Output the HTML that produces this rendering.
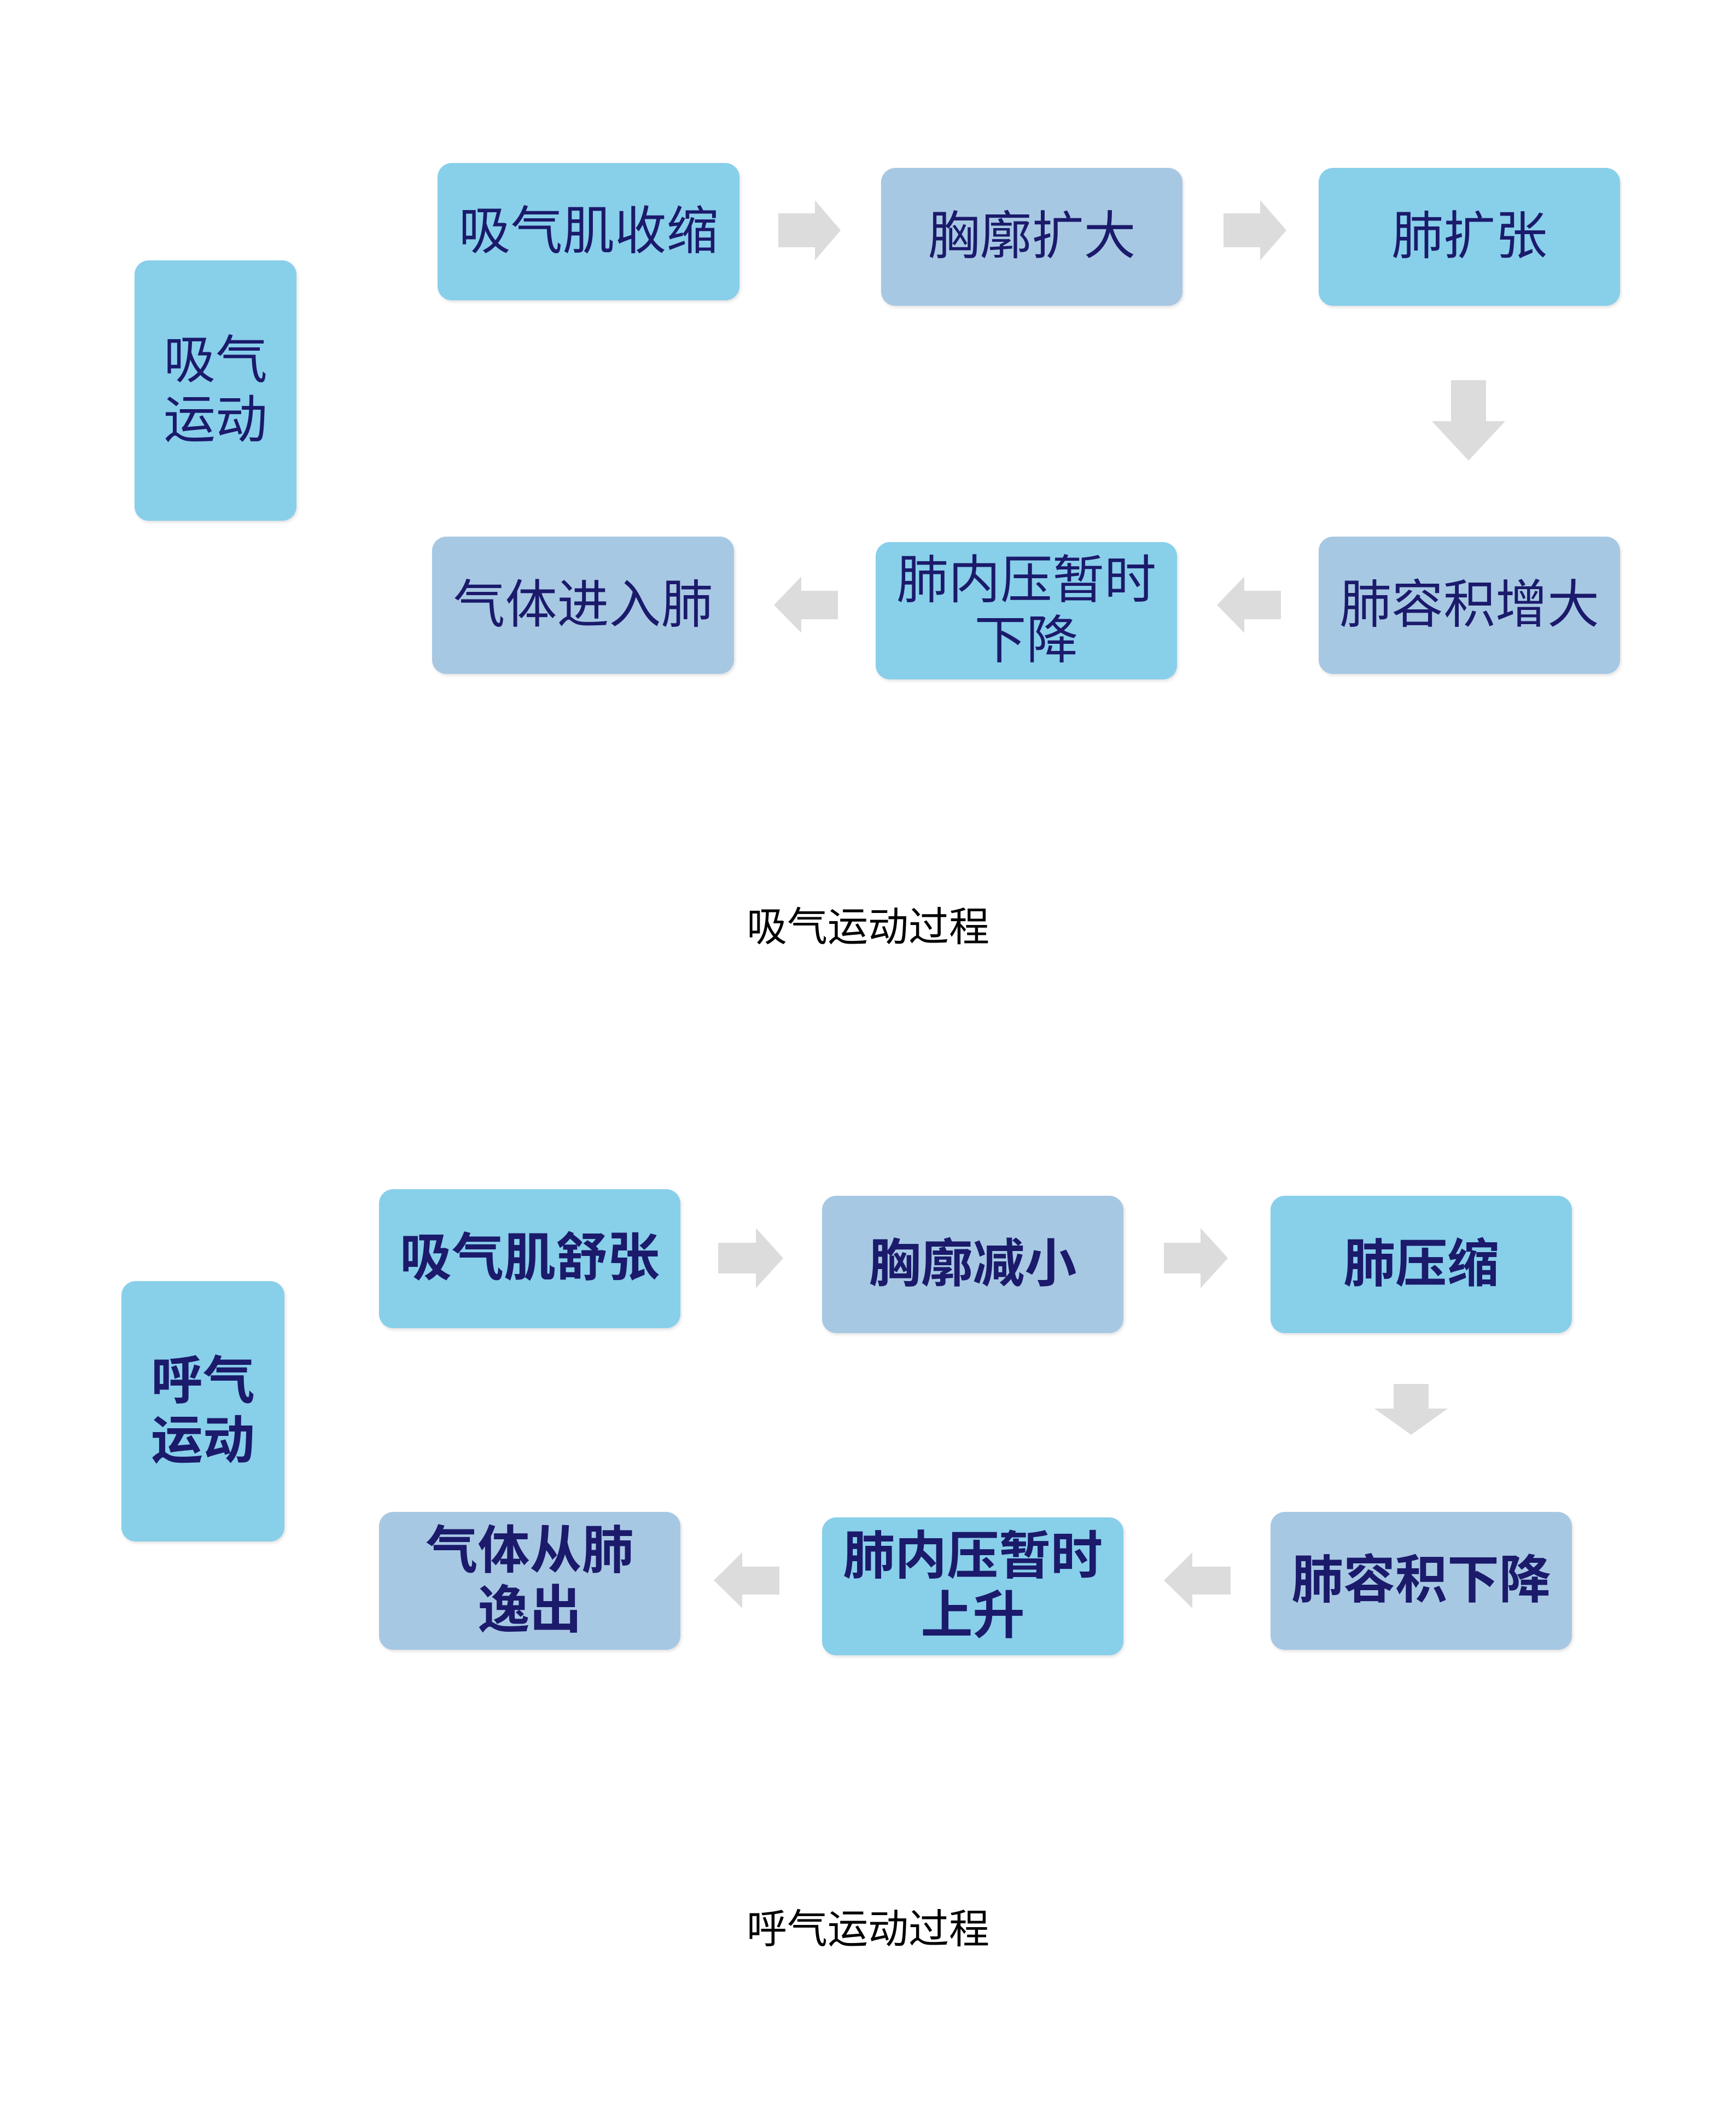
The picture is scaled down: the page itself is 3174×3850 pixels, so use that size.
<!DOCTYPE html>
<html><head><meta charset="utf-8"><style>
html,body{margin:0;padding:0;background:#fff;}
body{width:3174px;height:3850px;position:relative;overflow:hidden;font-family:"Liberation Sans","Noto Sans CJK SC",sans-serif;}
.b{position:absolute;border-radius:26px;display:flex;align-items:center;justify-content:center;text-align:center;color:#1b1a6b;font-size:95px;line-height:1.15;box-shadow:2px 3px 6px rgba(0,0,0,0.12);}
.l{background:#88cfea;}
.g{background:#a7c8e3;}
.bold{font-weight:bold;}
.cap{position:absolute;left:0;width:3174px;text-align:center;font-size:74px;color:#000;}
svg{position:absolute;left:0;top:0;}
</style></head><body>
<div class="b l" style="left:246px;top:476px;width:296px;height:476px;">吸气<br>运动</div>
<div class="b l" style="left:800px;top:298px;width:552px;height:251px;">吸气肌收缩</div>
<div class="b g" style="left:1611px;top:307px;width:551px;height:252px;">胸廓扩大</div>
<div class="b l" style="left:2411px;top:307px;width:551px;height:252px;">肺扩张</div>
<div class="b g" style="left:2411px;top:981px;width:551px;height:251px;">肺容积增大</div>
<div class="b l" style="left:1601px;top:991px;width:551px;height:251px;">肺内压暂时<br>下降</div>
<div class="b g" style="left:790px;top:981px;width:552px;height:251px;">气体进入肺</div>
<div class="cap" style="top:1635px;">吸气运动过程</div>

<div class="b l bold" style="left:222px;top:2342px;width:298px;height:476px;">呼气<br>运动</div>
<div class="b l bold" style="left:693px;top:2174px;width:551px;height:254px;">吸气肌舒张</div>
<div class="b g bold" style="left:1503px;top:2186px;width:551px;height:251px;">胸廓减小</div>
<div class="b l bold" style="left:2323px;top:2186px;width:551px;height:251px;">肺压缩</div>
<div class="b g bold" style="left:2323px;top:2764px;width:551px;height:252px;">肺容积下降</div>
<div class="b l bold" style="left:1503px;top:2774px;width:551px;height:252px;">肺内压暂时<br>上升</div>
<div class="b g bold" style="left:693px;top:2764px;width:551px;height:252px;">气体从肺<br>逸出</div>
<div class="cap" style="top:3467px;">呼气运动过程</div>

<svg width="3174" height="3850" fill="#dcdcdc">
<polygon points="1423,390 1490,390 1490,366 1537,421 1490,476 1490,452 1423,452"/>
<polygon points="2237,390 2304,390 2304,366 2352,421 2304,476 2304,452 2237,452"/>
<polygon points="2653,695 2717,695 2717,770 2752,770 2685,842 2618,770 2653,770"/>
<polygon points="1532,1080 1465,1080 1465,1054 1415,1106 1465,1157 1465,1132 1532,1132"/>
<polygon points="2342,1080 2275,1080 2275,1054 2225,1106 2275,1157 2275,1132 2342,1132"/>
<polygon points="1313,2272 1382,2272 1382,2245 1432,2300 1382,2355 1382,2328 1313,2328"/>
<polygon points="2128,2272 2195,2272 2195,2245 2245,2300 2195,2355 2195,2328 2128,2328"/>
<polygon points="2548,2530 2612,2530 2612,2575 2647,2575 2580,2623 2513,2575 2548,2575"/>
<polygon points="1425,2864 1357,2864 1357,2838 1305,2889 1357,2940 1357,2915 1425,2915"/>
<polygon points="2250,2864 2180,2864 2180,2838 2128,2889 2180,2940 2180,2915 2250,2915"/>
</svg>
</body></html>
